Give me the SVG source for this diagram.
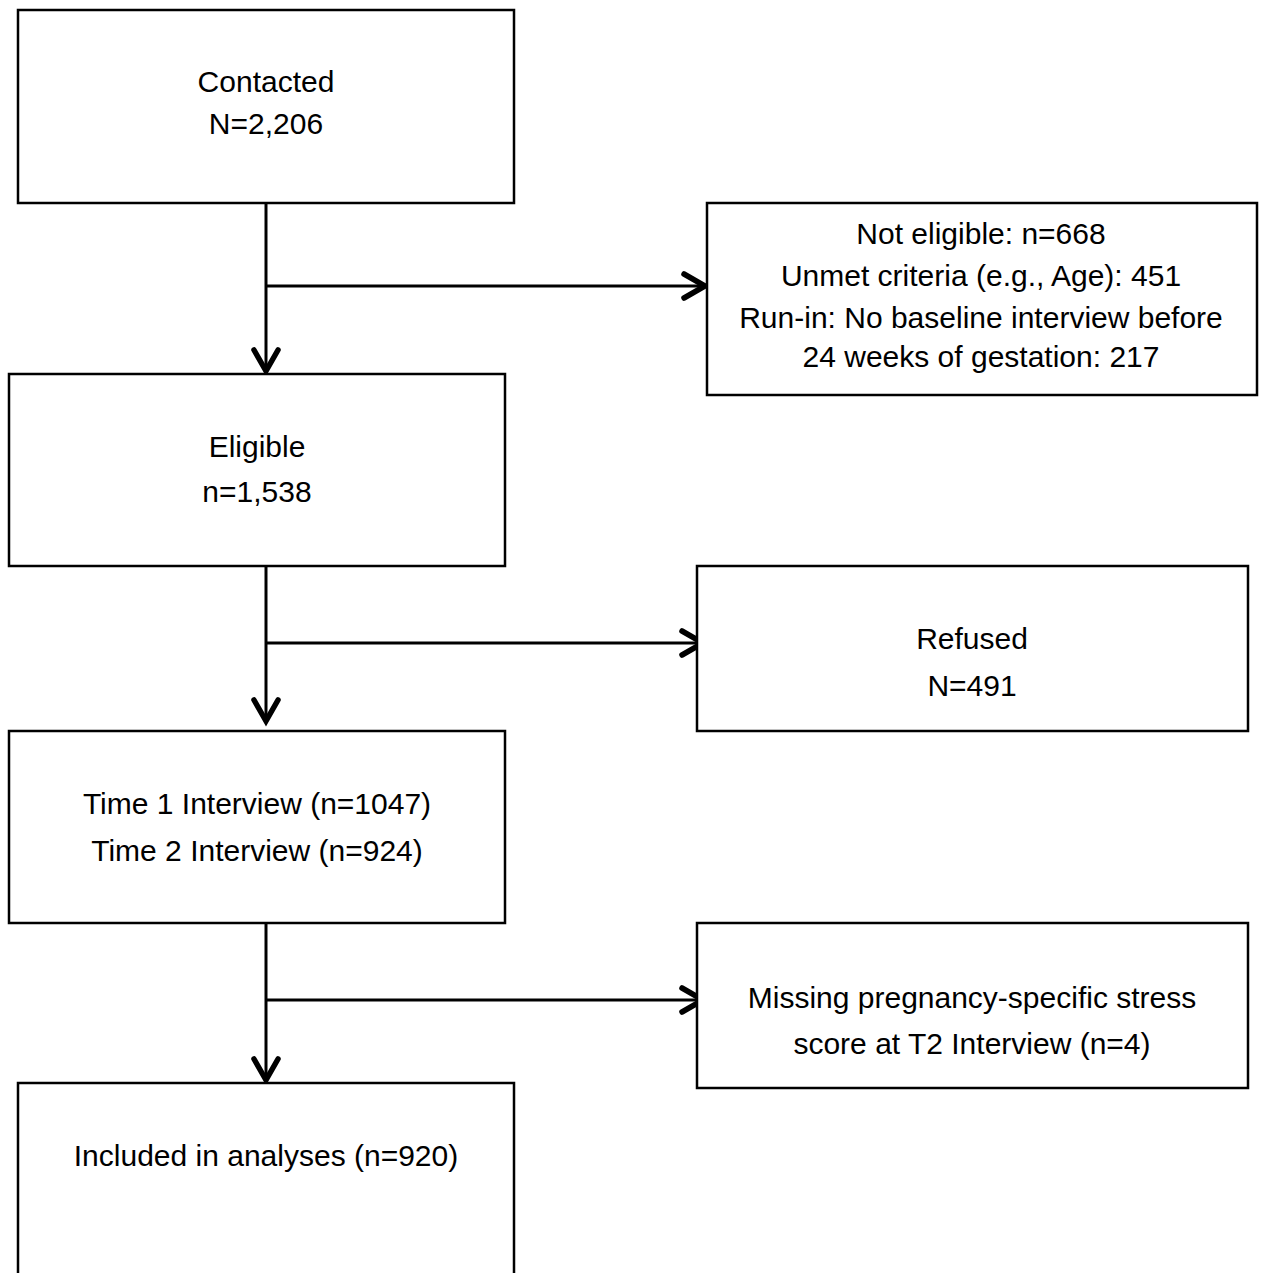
<svg xmlns="http://www.w3.org/2000/svg" width="1261" height="1273" viewBox="0 0 1261 1273">
<defs>
<style>
.box{fill:#fff;stroke:#000;stroke-width:2.5}
.t{font-family:"Liberation Sans",Arial,sans-serif;font-size:30px;fill:#000;text-anchor:middle}
.ln{stroke:#000;stroke-width:3;fill:none}
</style>
<marker id="arr" markerUnits="userSpaceOnUse" markerWidth="60" markerHeight="60" refX="0" refY="0" viewBox="-30 -30 60 60" orient="auto" overflow="visible">
<path d="M-22,-12 L-1,0 L-22,12" fill="none" stroke="#000" stroke-width="5.5" stroke-linecap="round" stroke-linejoin="miter"/>
</marker>
</defs>
<rect width="1261" height="1273" fill="#fff"/>
<g id="connectors">
<line class="ln" x1="266" y1="203" x2="266" y2="372" marker-end="url(#arr)"/>
<line class="ln" x1="266" y1="286" x2="706" y2="286" marker-end="url(#arr)"/>
<line class="ln" x1="266" y1="566" x2="266" y2="722" marker-end="url(#arr)"/>
<line class="ln" x1="266" y1="643" x2="704" y2="643" marker-end="url(#arr)"/>
<line class="ln" x1="266" y1="923" x2="266" y2="1081" marker-end="url(#arr)"/>
<line class="ln" x1="266" y1="1000" x2="704" y2="1000" marker-end="url(#arr)"/>
</g>
<g id="contacted">
<rect class="box" x="18" y="10" width="496" height="193"/>
<text class="t" x="266" y="92">Contacted</text>
<text class="t" x="266" y="134">N=2,206</text>
</g>
<g id="not-eligible">
<rect class="box" x="707" y="203" width="550" height="192"/>
<text class="t" x="981" y="244">Not eligible: n=668</text>
<text class="t" x="981" y="286">Unmet criteria (e.g., Age): 451</text>
<text class="t" x="981" y="328">Run-in: No baseline interview before</text>
<text class="t" x="981" y="367">24 weeks of gestation: 217</text>
</g>
<g id="eligible">
<rect class="box" x="9" y="374" width="496" height="192"/>
<text class="t" x="257" y="457">Eligible</text>
<text class="t" x="257" y="502">n=1,538</text>
</g>
<g id="refused">
<rect class="box" x="697" y="566" width="551" height="165"/>
<text class="t" x="972" y="649">Refused</text>
<text class="t" x="972" y="696">N=491</text>
</g>
<g id="interviews">
<rect class="box" x="9" y="731" width="496" height="192"/>
<text class="t" x="257" y="814">Time 1 Interview (n=1047)</text>
<text class="t" x="257" y="861">Time 2 Interview (n=924)</text>
</g>
<g id="missing">
<rect class="box" x="697" y="923" width="551" height="165"/>
<text class="t" x="972" y="1008">Missing pregnancy-specific stress</text>
<text class="t" x="972" y="1054">score at T2 Interview (n=4)</text>
</g>
<g id="included">
<rect class="box" x="18" y="1083" width="496" height="210"/>
<text class="t" x="266" y="1166">Included in analyses (n=920)</text>
</g>
</svg>
